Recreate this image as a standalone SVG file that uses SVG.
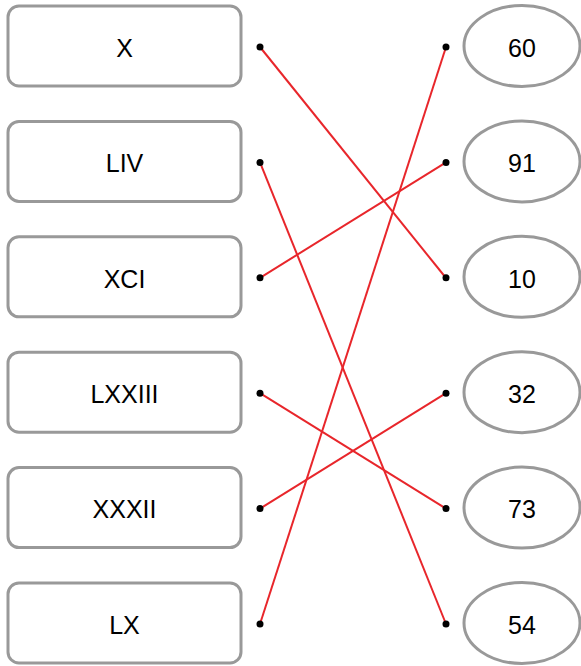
<svg xmlns="http://www.w3.org/2000/svg" width="581" height="666" viewBox="0 0 581 666">
<style>
.box{fill:#fff;stroke:#999;stroke-width:3}
.t{font-family:"Liberation Sans",Arial,sans-serif;font-size:25px;fill:#000;text-anchor:middle}
.ln{stroke:#e8262b;stroke-width:2;fill:none}
.dot{fill:#000}
</style>
<g id="l0"><rect class="box" x="8" y="6" width="233" height="80" rx="11"/><text class="t" x="124.5" y="56.8">X</text></g>
<g id="l1"><rect class="box" x="8" y="121.4" width="233" height="80" rx="11"/><text class="t" x="124.5" y="172.2">LIV</text></g>
<g id="l2"><rect class="box" x="8" y="236.8" width="233" height="80" rx="11"/><text class="t" x="124.5" y="287.6">XCI</text></g>
<g id="l3"><rect class="box" x="8" y="352.2" width="233" height="80" rx="11"/><text class="t" x="124.5" y="403">LXXIII</text></g>
<g id="l4"><rect class="box" x="8" y="467.6" width="233" height="80" rx="11"/><text class="t" x="124.5" y="518.4">XXXII</text></g>
<g id="l5"><rect class="box" x="8" y="583" width="233" height="80" rx="11"/><text class="t" x="124.5" y="633.8">LX</text></g>
<g id="r0"><ellipse class="box" cx="522" cy="46" rx="58" ry="40.5"/><text class="t" x="522" y="56.8">60</text></g>
<g id="r1"><ellipse class="box" cx="522" cy="161.4" rx="58" ry="40.5"/><text class="t" x="522" y="172.2">91</text></g>
<g id="r2"><ellipse class="box" cx="522" cy="276.8" rx="58" ry="40.5"/><text class="t" x="522" y="287.6">10</text></g>
<g id="r3"><ellipse class="box" cx="522" cy="392.2" rx="58" ry="40.5"/><text class="t" x="522" y="403">32</text></g>
<g id="r4"><ellipse class="box" cx="522" cy="507.6" rx="58" ry="40.5"/><text class="t" x="522" y="518.4">73</text></g>
<g id="r5"><ellipse class="box" cx="522" cy="623" rx="58" ry="40.5"/><text class="t" x="522" y="633.8">54</text></g>
<g id="connectors">
<line class="ln" x1="260" y1="47" x2="446" y2="278"/>
<line class="ln" x1="260" y1="162.4" x2="446" y2="624"/>
<line class="ln" x1="260" y1="277.8" x2="446" y2="162.4"/>
<line class="ln" x1="260" y1="393.2" x2="446" y2="508.6"/>
<line class="ln" x1="260" y1="508.6" x2="446" y2="393.2"/>
<line class="ln" x1="260" y1="624" x2="446" y2="47"/>
<g class="dot">
<circle cx="260" cy="47" r="3.5"/><circle cx="260" cy="162.4" r="3.5"/><circle cx="260" cy="277.8" r="3.5"/><circle cx="260" cy="393.2" r="3.5"/><circle cx="260" cy="508.6" r="3.5"/><circle cx="260" cy="624" r="3.5"/>
<circle cx="446" cy="47" r="3.5"/><circle cx="446" cy="162.4" r="3.5"/><circle cx="446" cy="277.8" r="3.5"/><circle cx="446" cy="393.2" r="3.5"/><circle cx="446" cy="508.6" r="3.5"/><circle cx="446" cy="624" r="3.5"/>
</g>
</g>
</svg>
